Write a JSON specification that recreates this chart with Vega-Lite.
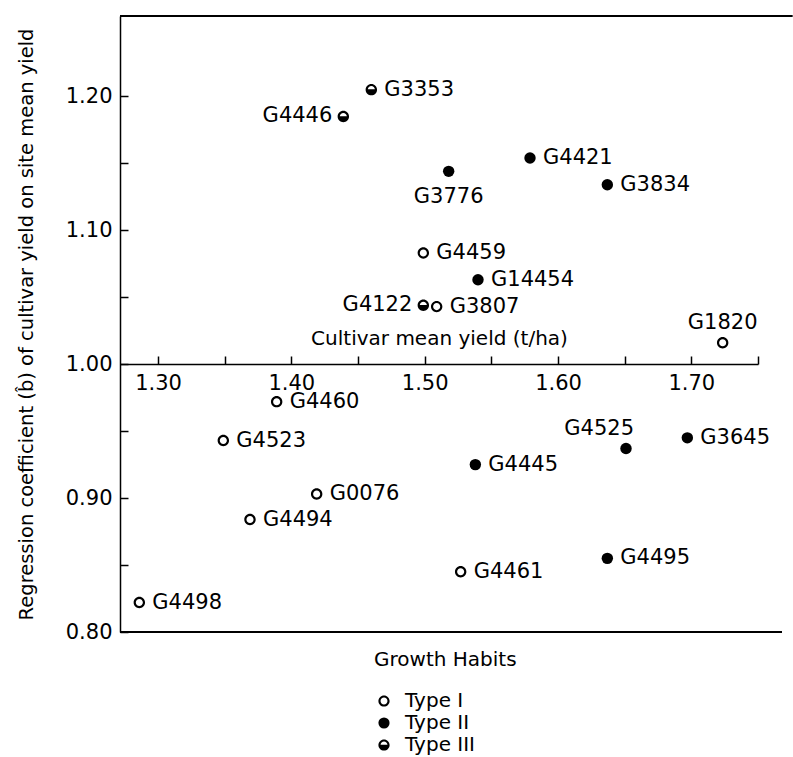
{
  "$schema": "https://vega.github.io/schema/vega-lite/v6.json",
  "width": 638,
  "height": 616,
  "autosize": "none",
  "padding": {"left": 120, "top": 16, "right": 35, "bottom": 125},
  "background": "white",
  "config": {
    "view": {"stroke": null},
    "font": "DejaVu Sans",
    "axis": {"domainColor": "black", "tickColor": "black", "labelColor": "black", "titleColor": "black", "grid": false, "domainWidth": 1.5, "tickWidth": 1.5, "titleFontWeight": "normal", "labelFlush": false, "labelOverlap": false, "labelFont": "DejaVu Sans", "titleFont": "DejaVu Sans"},
    "legend": {"labelFont": "DejaVu Sans", "titleFont": "DejaVu Sans"}
  },
  "data": {
    "values": [
      {"name": "G3353", "yield": 1.460, "b": 1.205, "type": "Type III"},
      {"name": "G4446", "yield": 1.439, "b": 1.185, "type": "Type III"},
      {"name": "G3776", "yield": 1.518, "b": 1.144, "type": "Type II"},
      {"name": "G4421", "yield": 1.579, "b": 1.154, "type": "Type II"},
      {"name": "G3834", "yield": 1.637, "b": 1.134, "type": "Type II"},
      {"name": "G4459", "yield": 1.499, "b": 1.083, "type": "Type I"},
      {"name": "G14454", "yield": 1.540, "b": 1.063, "type": "Type II"},
      {"name": "G4122", "yield": 1.499, "b": 1.044, "type": "Type III"},
      {"name": "G3807", "yield": 1.509, "b": 1.043, "type": "Type I"},
      {"name": "G1820", "yield": 1.7235, "b": 1.016, "type": "Type I"},
      {"name": "G4460", "yield": 1.389, "b": 0.972, "type": "Type I"},
      {"name": "G4523", "yield": 1.349, "b": 0.943, "type": "Type I"},
      {"name": "G4525", "yield": 1.651, "b": 0.937, "type": "Type II"},
      {"name": "G3645", "yield": 1.697, "b": 0.945, "type": "Type II"},
      {"name": "G4445", "yield": 1.538, "b": 0.925, "type": "Type II"},
      {"name": "G0076", "yield": 1.419, "b": 0.903, "type": "Type I"},
      {"name": "G4494", "yield": 1.369, "b": 0.884, "type": "Type I"},
      {"name": "G4495", "yield": 1.637, "b": 0.855, "type": "Type II"},
      {"name": "G4461", "yield": 1.527, "b": 0.845, "type": "Type I"},
      {"name": "G4498", "yield": 1.286, "b": 0.822, "type": "Type I"}
    ]
  },
  "layer": [
    {
      "mark": {"type": "point", "filled": true, "color": "black", "opacity": 1, "size": 130, "strokeWidth": 0},
      "encoding": {
        "x": {
          "field": "yield", "type": "quantitative",
          "scale": {"domain": [1.2715, 1.75], "nice": false, "zero": false},
          "axis": {
            "orient": "bottom", "offset": -268,
            "values": [1.30, 1.35, 1.40, 1.45, 1.50, 1.55, 1.60, 1.65, 1.70, 1.75],
            "labelExpr": "round(datum.value*100) % 10 == 0 ? format(datum.value, '.2f') : ''",
            "tickSize": -8, "labelPadding": 16, "labelFontSize": 21,
            "title": "Cultivar mean yield (t/ha)", "titleFontSize": 20,
            "titleY": -20, "titleBaseline": "alphabetic"
          }
        },
        "y": {
          "field": "b", "type": "quantitative",
          "scale": {"domain": [0.80, 1.26], "nice": false, "zero": false},
          "axis": {
            "values": [0.80, 0.85, 0.90, 0.95, 1.00, 1.05, 1.10, 1.15, 1.20],
            "labelExpr": "round(datum.value*100) % 10 == 0 ? format(datum.value, '.2f') : ''",
            "tickSize": -8, "labelPadding": 16, "labelFontSize": 21,
            "title": "Regression coefficient (b̂) of cultivar yield on site mean yield",
            "titleFontSize": 19.5, "titlePadding": 29
          }
        },
        "shape": {
          "field": "type", "type": "nominal",
          "scale": {
            "domain": ["Type I", "Type II", "Type III"],
            "range": [
              "M 1 0 A 1 1 0 1 1 -1 0 A 1 1 0 1 1 1 0 Z M 0.62 0 A 0.62 0.62 0 1 0 -0.62 0 A 0.62 0.62 0 1 0 0.62 0 Z",
              "circle",
              "M 1 0 A 1 1 0 1 1 -1 0 A 1 1 0 1 1 1 0 Z M 0.618 -0.05 A 0.62 0.62 0 0 0 -0.618 -0.05 Z"
            ]
          },
          "legend": {
            "title": "Growth Habits", "orient": "none", "legendX": 254, "legendY": 634,
            "direction": "vertical", "titleFontSize": 20, "titleFontWeight": "normal",
            "labelFontSize": 20, "symbolSize": 125, "symbolFillColor": "black",
            "symbolStrokeWidth": 0, "symbolOpacity": 1, "labelOffset": 11,
            "titlePadding": 21, "rowPadding": 2, "labelColor": "black", "titleColor": "black"
          }
        }
      }
    },
    {
      "transform": [{"filter": {"not": {"field": "name", "oneOf": ["G4446", "G4122", "G1820", "G4525", "G3776"]}}}],
      "mark": {"type": "text", "align": "left", "baseline": "middle", "dx": 13, "fontSize": 21, "color": "black"},
      "encoding": {"x": {"field": "yield", "type": "quantitative"}, "y": {"field": "b", "type": "quantitative"}, "text": {"field": "name"}}
    },
    {
      "transform": [{"filter": {"field": "name", "oneOf": ["G4446", "G4122"]}}],
      "mark": {"type": "text", "align": "right", "baseline": "middle", "dx": -11, "fontSize": 21, "color": "black"},
      "encoding": {"x": {"field": "yield", "type": "quantitative"}, "y": {"field": "b", "type": "quantitative"}, "text": {"field": "name"}}
    },
    {
      "transform": [{"filter": {"field": "name", "oneOf": ["G1820"]}}],
      "mark": {"type": "text", "align": "center", "baseline": "alphabetic", "dy": -14, "fontSize": 21, "color": "black"},
      "encoding": {"x": {"field": "yield", "type": "quantitative"}, "y": {"field": "b", "type": "quantitative"}, "text": {"field": "name"}}
    },
    {
      "transform": [{"filter": {"field": "name", "oneOf": ["G4525"]}}],
      "mark": {"type": "text", "align": "right", "baseline": "alphabetic", "dx": 8, "dy": -14, "fontSize": 21, "color": "black"},
      "encoding": {"x": {"field": "yield", "type": "quantitative"}, "y": {"field": "b", "type": "quantitative"}, "text": {"field": "name"}}
    },
    {
      "transform": [{"filter": {"field": "name", "oneOf": ["G3776"]}}],
      "mark": {"type": "text", "align": "center", "baseline": "top", "dy": 15, "fontSize": 21, "color": "black"},
      "encoding": {"x": {"field": "yield", "type": "quantitative"}, "y": {"field": "b", "type": "quantitative"}, "text": {"field": "name"}}
    },
    {
      "data": {"values": [{}]},
      "mark": {"type": "rule", "color": "black", "strokeWidth": 2},
      "encoding": {"y": {"datum": 0.80, "type": "quantitative"}, "x": {"datum": 1.2715, "type": "quantitative"}, "x2": {"datum": 1.768}}
    },
    {
      "data": {"values": [{}]},
      "mark": {"type": "rule", "color": "black", "strokeWidth": 2},
      "encoding": {"y": {"datum": 1.26, "type": "quantitative"}, "x": {"datum": 1.2715, "type": "quantitative"}, "x2": {"datum": 1.776}}
    }
  ]
}
